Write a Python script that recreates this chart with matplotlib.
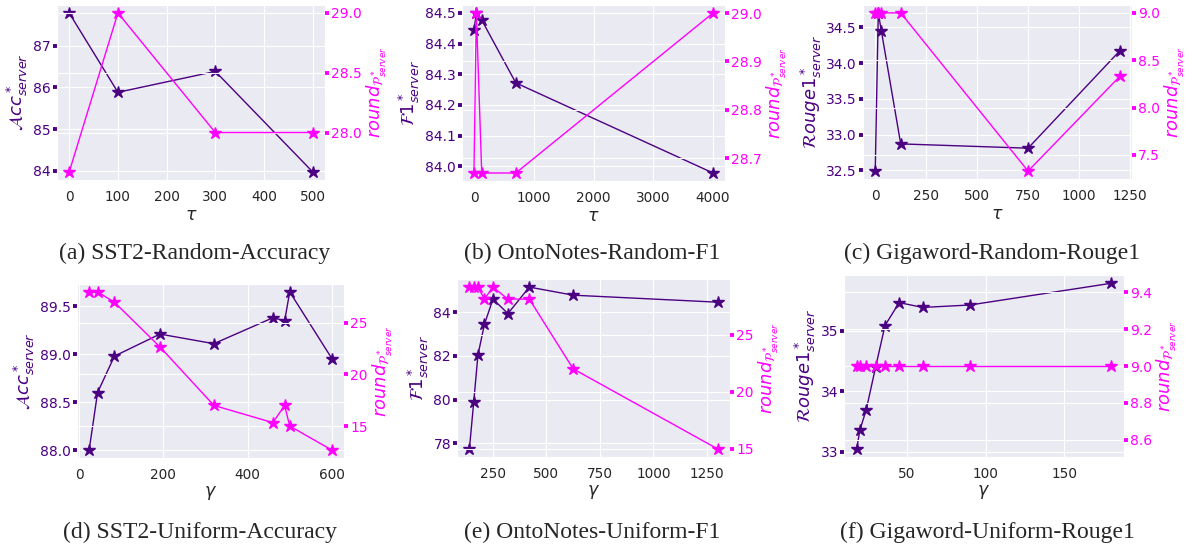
import matplotlib
matplotlib.use("Agg")
import matplotlib.pyplot as plt
import seaborn as sns

sns.set_style("darkgrid")
plt.rcParams["font.family"] = ["DejaVu Sans"]

PURPLE = "indigo"
PINK = "magenta"

# (a) SST2-Random-Accuracy
a_x = [0, 100, 300, 500]
a_metric = [87.78, 85.88, 86.38, 83.97]
a_round = [27.67, 29.0, 28.0, 28.0]

# (b) OntoNotes-Random-F1
b_x = [0, 40, 130, 700, 4000]
b_metric = [84.445, 84.50, 84.477, 84.272, 83.978]
b_round = [28.67, 29.0, 28.67, 28.67, 29.0]

# (c) Gigaword-Random-Rouge1
c_x = [0, 15, 30, 125, 750, 1200]
c_metric = [32.49, 34.70, 34.45, 32.87, 32.81, 34.17]
c_round = [9.0, 9.0, 9.0, 9.0, 7.33, 8.33]

# (d) SST2-Uniform-Accuracy
d_x = [24, 44, 84, 192, 320, 460, 488, 500, 600]
d_metric = [88.0, 88.6, 88.98, 89.21, 89.11, 89.38, 89.35, 89.65, 88.955]
d_round = [28.0, 28.0, 27.0, 22.67, 17.0, 15.33, 17.0, 15.0, 12.67]

# (e) OntoNotes-Uniform-F1
e_x = [140, 160, 180, 210, 250, 320, 420, 625, 1300]
e_metric = [77.75, 79.88, 82.05, 83.44, 84.6, 83.94, 85.15, 84.78, 84.46]
e_round = [29.15, 29.15, 29.15, 28.1, 29.15, 28.1, 28.1, 22.0, 15.0]

# (f) Gigaword-Uniform-Rouge1
f_x = [18, 20, 24, 30, 36, 45, 60, 90, 180]
f_metric = [33.05, 33.36, 33.69, 34.4, 35.09, 35.47, 35.39, 35.43, 35.79]
f_round = [9.0, 9.0, 9.0, 9.0, 9.0, 9.0, 9.0, 9.0, 9.0]

# tick values
a_xt, a_lt, a_rt = [0, 100, 200, 300, 400, 500], [84, 85, 86, 87], [28.0, 28.5, 29.0]
b_xt, b_lt, b_rt = [0, 1000, 2000, 3000, 4000], [84.0, 84.1, 84.2, 84.3, 84.4, 84.5], [28.7, 28.8, 28.9, 29.0]
c_xt, c_lt, c_rt = [0, 250, 500, 750, 1000, 1250], [32.5, 33.0, 33.5, 34.0, 34.5], [7.5, 8.0, 8.5, 9.0]
d_xt, d_lt, d_rt = [0, 200, 400, 600], [88.0, 88.5, 89.0, 89.5], [15, 20, 25]
e_xt, e_lt, e_rt = [250, 500, 750, 1000, 1250], [78, 80, 82, 84], [15, 20, 25]
f_xt, f_lt, f_rt = [50, 100, 150], [33, 34, 35], [8.6, 8.8, 9.0, 9.2, 9.4]

ROUND_LABEL = r"$round_{\mathcal{P}^*_{server}}$"

panels = [
    # rect, x, metric, round, xticks, lticks, rticks, xlabel, ylabel, caption, caption pos
    ([57, 5, 325, 180], a_x, a_metric, a_round, a_xt, a_lt, a_rt, r"$\tau$",
     r"$\mathcal{A}cc^*_{server}$", "(a) SST2-Random-Accuracy", (195, 253)),
    ([462, 5, 725, 181], b_x, b_metric, b_round, b_xt, b_lt, b_rt, r"$\tau$",
     r"$\mathcal{F}1^*_{server}$", "(b) OntoNotes-Random-F1", (592, 253)),
    ([863, 5, 1132, 179], c_x, c_metric, c_round, c_xt, c_lt, c_rt, r"$\tau$",
     r"$\mathcal{R}ouge1^*_{server}$", "(c) Gigaword-Random-Rouge1", (992, 253)),
    ([77, 284, 344, 458], d_x, d_metric, d_round, d_xt, d_lt, d_rt, r"$\gamma$",
     r"$\mathcal{A}cc^*_{server}$", "(d) SST2-Uniform-Accuracy", (200, 532)),
    ([457, 279, 730, 457], e_x, e_metric, e_round, e_xt, e_lt, e_rt, r"$\gamma$",
     r"$\mathcal{F}1^*_{server}$", "(e) OntoNotes-Uniform-F1", (592, 532)),
    ([844, 275, 1124, 457], f_x, f_metric, f_round, f_xt, f_lt, f_rt, r"$\gamma$",
     r"$\mathcal{R}ouge1^*_{server}$", "(f) Gigaword-Uniform-Rouge1", (987, 532)),
]

W, H = 1192, 546
fig = plt.figure(figsize=(W / 100, H / 100), dpi=100)

for rect, xs, metric, rounds, xt, lt, rt, xlab, ylab, cap, cpos in panels:
    x0, y0, x1, y1 = rect
    ax = fig.add_axes([x0 / W, 1 - y1 / H, (x1 - x0) / W, (y1 - y0) / H])
    ax.plot(xs, metric, color=PURPLE, lw=1, marker="*", ms=9)
    ax.set_xticks(xt)
    ax.set_yticks(lt)
    ax.tick_params(axis="x", labelsize=9.8, colors=".15", pad=4)
    ax.tick_params(axis="y", labelsize=10, colors=PURPLE, left=True,
                   length=2.8, width=2.8, pad=1.5)
    ax.set_xlabel(xlab, fontsize=12.5, color=".15", labelpad=1)
    ax.set_ylabel(ylab, fontsize=13, color=PURPLE, labelpad=2)

    ax2 = ax.twinx()
    ax2.plot(xs, rounds, color=PINK, lw=1, marker="*", ms=9)
    ax2.set_yticks(rt)
    ax2.tick_params(axis="y", labelsize=10, colors=PINK, right=True,
                    length=2.8, width=2.8, pad=1.5)
    ax2.set_ylabel(ROUND_LABEL, fontsize=13, color=PINK, labelpad=2)
    for sp in ax2.spines.values():
        sp.set_visible(False)

    fig.text(cpos[0] / W, 1 - cpos[1] / H, cap, ha="center", va="center",
             fontsize=17, family="Liberation Serif")

fig.savefig("out.png", dpi=100)
